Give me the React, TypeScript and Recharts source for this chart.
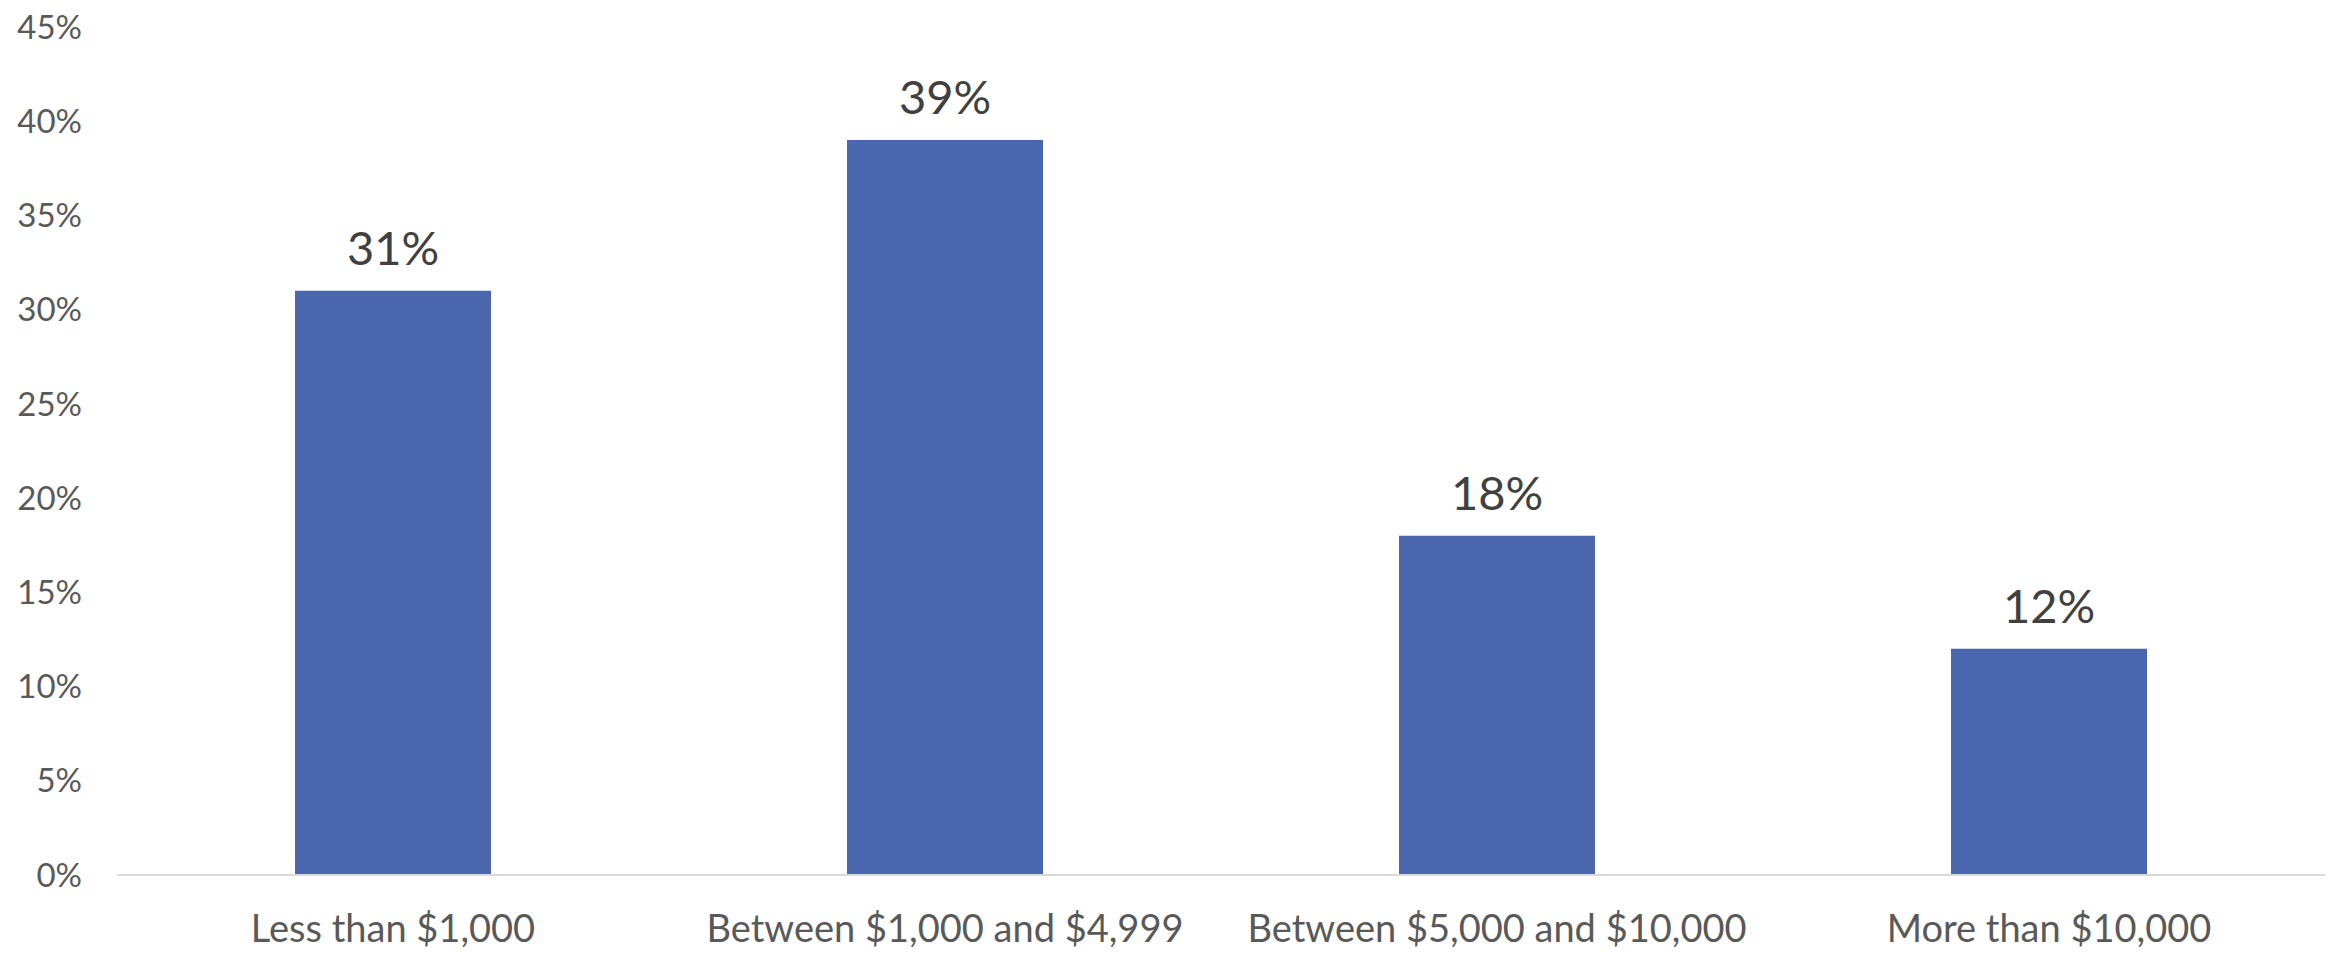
import { BarChart, Bar, XAxis, YAxis, LabelList } from 'recharts';

const categories = ['Less than $1,000', 'Between $1,000 and $4,999', 'Between $5,000 and $10,000', 'More than $10,000'];
const shares = [31, 39, 18, 12];
const yTicks = [0, 5, 10, 15, 20, 25, 30, 35, 40, 45];

const data = categories.map((name, i) => ({ name, value: shares[i] }));

const FONT = 'Lato, "Open Sans", sans-serif';

const App = () => {
  return (
    <div style={{ margin: '-8px 0 0 -8px', width: 2333, height: 953, background: '#fff' }}>
      <BarChart
        width={2333}
        height={953}
        data={data}
        margin={{ top: 27, right: 8, left: 0, bottom: 0 }}
      >
        <XAxis
          dataKey="name"
          height={78}
          tickLine={false}
          tickSize={0}
          tickMargin={40}
          axisLine={{ stroke: '#d9d9d9', strokeWidth: 2 }}
          tick={{ fill: '#595959', fontSize: 38, fontFamily: FONT }}
          interval={0}
        />
        <YAxis
          width={117}
          domain={[0, 45]}
          ticks={yTicks}
          interval={0}
          axisLine={false}
          tickLine={false}
          tickSize={0}
          tickMargin={35}
          tickFormatter={(v) => `${v}%`}
          tick={{ fill: '#595959', fontSize: 33, fontFamily: FONT }}
        />
        <Bar dataKey="value" fill="#4a66ac" barSize={196} isAnimationActive={false}>
          <LabelList
            dataKey="value"
            position="top"
            offset={26}
            formatter={(v: number) => `${v}%`}
            style={{ fill: '#404040', fontSize: 47, fontFamily: FONT }}
          />
        </Bar>
      </BarChart>
    </div>
  );
};

export default App;
